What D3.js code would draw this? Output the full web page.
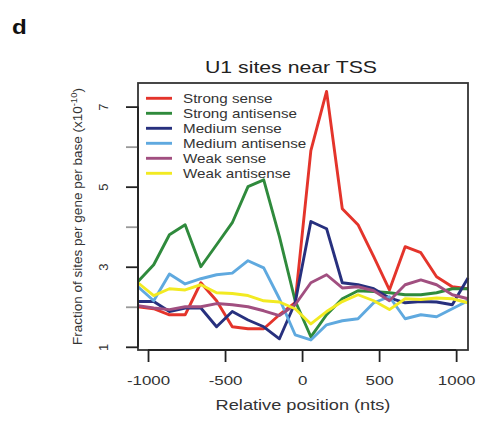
<!DOCTYPE html>
<html>
<head>
<meta charset="utf-8">
<script src="https://cdn.jsdelivr.net/npm/d3@7"></script>
<style>
  html, body { margin: 0; padding: 0; background: #fff; }
  svg { display: block; font-family: "Liberation Sans", Arial, Helvetica, sans-serif; }
</style>
</head>
<body>
<svg id="chart" width="477" height="423"></svg>
<script>
// Bin centres (nt relative to the TSS)
const positions = [-1065, -963, -861, -759, -657, -555, -453, -351, -249, -147, -45,
                   57, 159, 261, 363, 465, 567, 669, 771, 873, 975, 1077];

// Sites per gene per base (x10^-10), one value per bin
const strongSense     = [2.00, 1.95, 1.80, 1.80, 2.60, 2.15, 1.50, 1.45, 1.45, 1.80, 2.10,
                         5.90, 7.38, 4.45, 4.05, 3.25, 2.42, 3.50, 3.35, 2.75, 2.50, 2.45];
const strongAntisense = [2.63, 3.05, 3.80, 4.05, 3.00, 3.55, 4.10, 5.00, 5.17, 3.75, 2.15,
                         1.25, 1.80, 2.20, 2.40, 2.38, 2.35, 2.30, 2.30, 2.35, 2.45, 2.45];
const mediumSense     = [2.13, 2.13, 1.88, 1.97, 1.97, 1.50, 1.88, 1.67, 1.50, 1.20, 2.10,
                         4.13, 3.95, 2.60, 2.55, 2.45, 2.22, 2.10, 2.13, 2.12, 2.05, 2.72];
const mediumAntisense = [2.50, 2.15, 2.82, 2.57, 2.70, 2.80, 2.84, 3.15, 2.97, 2.20, 1.30,
                         1.17, 1.55, 1.65, 1.70, 2.10, 2.25, 1.70, 1.80, 1.75, 1.95, 2.15];
const weakSense       = [2.03, 1.97, 1.93, 2.00, 2.00, 2.08, 2.05, 2.00, 1.90, 1.78, 2.05,
                         2.60, 2.80, 2.47, 2.50, 2.40, 2.15, 2.55, 2.67, 2.55, 2.30, 2.20];
const weakAntisense   = [2.60, 2.28, 2.45, 2.42, 2.55, 2.35, 2.33, 2.28, 2.15, 2.12, 1.95,
                         1.57, 1.88, 2.13, 2.30, 2.15, 1.93, 2.20, 2.18, 2.22, 2.20, 2.10];

const seriesNames  = ["Strong sense", "Strong antisense", "Medium sense",
                      "Medium antisense", "Weak sense", "Weak antisense"];
const seriesColors = ["#e4342b", "#2f8a3c", "#27307e", "#5fa9df", "#a14f80", "#f2ea22"];

const xTicks = [-1000, -500, 0, 500, 1000];
const xTickLabels = ["-1000", "-500", "0", "500", "1000"];
const yTicks = [1, 2, 3, 4, 5, 6, 7];
const yTickLabels = ["1", "", "3", "", "5", "", "7"];

const series = [strongSense, strongAntisense, mediumSense,
                mediumAntisense, weakSense, weakAntisense].map((vals, i) => ({
  name: seriesNames[i],
  color: seriesColors[i],
  points: vals.map((v, j) => ({ x: positions[j], y: v }))
}));

const svg = d3.select("#chart");

// Plot region
const box = { left: 138, right: 468, top: 83, bottom: 350 };
const x = d3.scaleLinear().domain([-1065, 1077]).range([box.left, box.right]);
const y = d3.scaleLinear().domain([0.92, 7.59]).range([box.bottom, box.top]);

// Text in this figure is set slightly wide
const WIDE = 1.25;

// Panel letter
svg.append("text")
  .attr("transform", `translate(12,34) scale(1.15,1)`)
  .attr("font-size", 21).attr("font-weight", "bold")
  .attr("fill", "#111")
  .text("d");

// Title
svg.append("text")
  .attr("x", 291).attr("y", 73)
  .attr("text-anchor", "middle")
  .attr("font-size", 17)
  .attr("textLength", 172).attr("lengthAdjust", "spacingAndGlyphs")
  .attr("fill", "#222")
  .text("U1 sites near TSS");

// Series lines
const line = d3.line().x(d => x(d.x)).y(d => y(d.y));
svg.append("g")
  .selectAll("path")
  .data(series)
  .join("path")
  .attr("d", d => line(d.points))
  .attr("fill", "none")
  .attr("stroke", d => d.color)
  .attr("stroke-width", 2.9)
  .attr("stroke-linejoin", "round");

// Frame
svg.append("rect")
  .attr("x", box.left).attr("y", box.top)
  .attr("width", box.right - box.left).attr("height", box.bottom - box.top)
  .attr("fill", "none").attr("stroke", "#333").attr("stroke-width", 1.8);

// X axis
const xAxis = svg.append("g")
  .attr("transform", `translate(0,${box.bottom})`)
  .call(d3.axisBottom(x).tickValues(xTicks)
    .tickFormat((d, i) => xTickLabels[i])
    .tickSize(12).tickPadding(14));
xAxis.select(".domain").remove();
xAxis.selectAll(".tick line").attr("stroke", "#222").attr("stroke-width", 1.8);
xAxis.selectAll(".tick text")
  .attr("font-size", 13).attr("fill", "#333")
  .attr("font-family", "Liberation Sans, Arial, sans-serif")
  .attr("transform", `scale(${WIDE + 0.05},1)`);
// axis line between the first and last tick
svg.append("line")
  .attr("x1", x(xTicks[0])).attr("x2", x(xTicks[xTicks.length - 1]))
  .attr("y1", box.bottom).attr("y2", box.bottom)
  .attr("stroke", "#222").attr("stroke-width", 1.8);

// Y axis (labels rotated, as in base graphics)
const yAxis = svg.append("g")
  .attr("transform", `translate(${box.left},0)`)
  .call(d3.axisLeft(y).tickValues(yTicks)
    .tickFormat((d, i) => yTickLabels[i])
    .tickSize(12));
yAxis.select(".domain").remove();
yAxis.selectAll(".tick line")
  .attr("stroke", (d, i) => yTickLabels[i] ? "#222" : "#999")
  .attr("stroke-width", 1.8);
yAxis.selectAll(".tick text")
  .attr("font-size", 13).attr("fill", "#333")
  .attr("font-family", "Liberation Sans, Arial, sans-serif")
  .attr("x", -30).attr("dy", 0)
  .attr("text-anchor", "middle")
  .attr("transform", "rotate(-90,-30,0)");
svg.append("line")
  .attr("x1", box.left).attr("x2", box.left)
  .attr("y1", y(yTicks[0])).attr("y2", y(yTicks[yTicks.length - 1]))
  .attr("stroke", "#222").attr("stroke-width", 1.8);

// Axis titles
svg.append("text")
  .attr("transform", `translate(303,410) scale(${WIDE + 0.05},1)`)
  .attr("text-anchor", "middle")
  .attr("font-size", 14).attr("fill", "#333")
  .text("Relative position (nts)");

const yTitle = svg.append("text")
  .attr("transform", `translate(82,${(box.top + box.bottom) / 2}) rotate(-90)`)
  .attr("text-anchor", "middle")
  .attr("font-size", 13.5).attr("fill", "#333");
yTitle.append("tspan").text("Fraction of sites per gene per base (x10");
yTitle.append("tspan").attr("dy", -5).attr("font-size", 9.5).text("-10");
yTitle.append("tspan").attr("dy", 5).text(")");

// Legend
const legend = svg.append("g")
  .selectAll("g")
  .data(series)
  .join("g")
  .attr("transform", (d, i) => `translate(0,${98.3 + i * 15})`);
legend.append("line")
  .attr("x1", 146).attr("x2", 172)
  .attr("y1", 0).attr("y2", 0)
  .attr("stroke", d => d.color).attr("stroke-width", 2.9);
legend.append("text")
  .attr("transform", `translate(183,4.5) scale(1.17,1)`)
  .attr("font-size", 13).attr("fill", "#333")
  .text(d => d.name);
</script>
</body>
</html>
